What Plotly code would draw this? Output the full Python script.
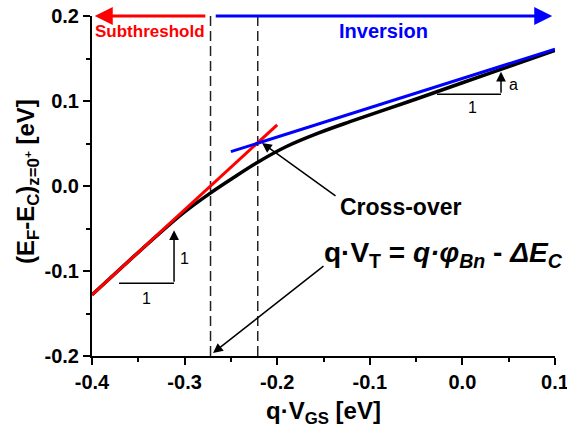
import plotly.graph_objects as go

# Band-edge position at the surface vs. gate drive
vgs = [-0.40, -0.36, -0.33, -0.30, -0.2726, -0.247, -0.221, -0.19,
       -0.155, -0.1214, -0.06, 0.00, 0.05, 0.10]
ef_ec = [-0.128, -0.088, -0.0585, -0.0305, -0.0086, 0.0100, 0.028, 0.0465,
         0.0625, 0.0757, 0.0985, 0.1215, 0.1405, 0.1595]

# Asymptotes: subthreshold (slope 1) and inversion (slope a)
sub_x = [-0.40, -0.20]
sub_y = [-0.128, 0.072]
inv_x = [-0.25, 0.10]
inv_y = [0.0404, 0.161]

# Threshold and cross-over gate voltages
vt_x = -0.272
vx_x = -0.221

# Slope triangles
tri1_x = [-0.3708, -0.3114]
tri1_y = [-0.1145, -0.1145]
tri1_tip = -0.052
tria_x = [-0.0274, 0.0417]
tria_y = [0.108, 0.108]
tria_tip = 0.1345

x_ticks = [-0.4, -0.3, -0.2, -0.1, 0.0, 0.1]
y_ticks = [-0.2, -0.1, 0.0, 0.1, 0.2]

FONT = "Liberation Sans, Arial, sans-serif"
RED = "#ff0000"
BLUE = "#0000ff"

fig = go.Figure()

for xv in (vt_x, vx_x):
    fig.add_trace(go.Scatter(x=[xv, xv], y=[-0.2, 0.2], mode="lines",
                             line=dict(color="#222222", width=1.5, dash="10px,5px")))

fig.add_trace(go.Scatter(x=vgs, y=ef_ec, mode="lines", line_shape="spline",
                         line=dict(color="black", width=3.5)))
fig.add_trace(go.Scatter(x=sub_x, y=sub_y, mode="lines",
                         line=dict(color=RED, width=3)))
fig.add_trace(go.Scatter(x=inv_x, y=inv_y, mode="lines",
                         line=dict(color=BLUE, width=3)))

# horizontal legs of the slope triangles
fig.add_trace(go.Scatter(x=tri1_x, y=tri1_y, mode="lines",
                         line=dict(color="black", width=1.5)))
fig.add_trace(go.Scatter(x=tria_x, y=tria_y, mode="lines",
                         line=dict(color="black", width=1.5)))

ann = []


def arrow(x0, y0, x1, y1, color="black", width=1.5, head=2, size=1.3):
    ann.append(dict(x=x1, y=y1, ax=x0, ay=y0, xref="x", yref="y",
                    axref="x", ayref="y", text="", showarrow=True,
                    arrowhead=head, arrowsize=size, arrowwidth=width,
                    arrowcolor=color))


# region arrows along the top
arrow(-0.276, 0.2, -0.397, 0.2, RED, 3, 2, 1.2)
arrow(-0.268, 0.2, 0.097, 0.2, BLUE, 3, 2, 1.2)
# vertical legs of the slope triangles
arrow(tri1_x[1], tri1_y[1], tri1_x[1], tri1_tip)
arrow(tria_x[1], tria_y[1], tria_x[1], tria_tip)
# callouts
arrow(-0.1354, -0.0129, -0.2164, 0.0506)
arrow(-0.1484, -0.0929, -0.2693, -0.1965)


def label(x, y, text, size, color="black", xanchor="center", yanchor="middle"):
    ann.append(dict(x=x, y=y, xref="x", yref="y", text=text, showarrow=False,
                    xanchor=xanchor, yanchor=yanchor,
                    font=dict(family=FONT, size=size, color=color)))


label(-0.3374, 0.182, "<b>Subthreshold</b>", 17, RED)
label(-0.0847, 0.182, "<b>Inversion</b>", 20, BLUE)
label(-0.1343, -0.0247, "<b>Cross-over</b>", 23, xanchor="left")
label(-0.1516, -0.080,
      "<b>q·V<sub>T</sub> = <i>q·φ<sub>Bn</sub></i> - <i>ΔE<sub>C</sub></i></b>",
      28, xanchor="left")
label(-0.3003, -0.085, "1", 16)
label(-0.341, -0.132, "1", 16)
label(0.0547, 0.120, "a", 16)
label(0.0114, 0.0918, "1", 16)

# axis titles
ann.append(dict(x=-0.138, y=0.512, xref="paper", yref="paper", textangle=-90,
                xanchor="center", yanchor="middle", showarrow=False,
                text="<b>(E<sub>F</sub>-E<sub>C</sub>)<sub>z=0<sup>+</sup></sub> [eV]</b>",
                font=dict(family=FONT, size=24, color="black")))
ann.append(dict(x=0.501, y=-0.165, xref="paper", yref="paper",
                xanchor="center", yanchor="middle", showarrow=False,
                text="<b>q·V<sub>GS</sub> [eV]</b>",
                font=dict(family=FONT, size=24, color="black")))

axis_common = dict(showgrid=False, zeroline=False, showline=True,
                   linecolor="black", linewidth=2, ticks="outside", ticklen=7,
                   tickwidth=1.5, tickcolor="black", ticklabeloverflow="allow",
                   automargin=False,
                   tickfont=dict(family=FONT, size=20, color="black", weight="bold"),
                   minor=dict(ticks="outside", ticklen=4, tickwidth=1.5,
                              tickcolor="black", dtick=0.05, showgrid=False))

fig.update_layout(
    width=567, height=429,
    margin=dict(l=92, r=12, t=16, b=73, autoexpand=False),
    paper_bgcolor="white", plot_bgcolor="white",
    showlegend=False,
    annotations=ann,
    xaxis=dict(range=[-0.4, 0.1], tickmode="array", tickvals=x_ticks,
               ticktext=[f"{v:.1f}" for v in x_ticks], **axis_common),
    yaxis=dict(range=[-0.2, 0.2], tickmode="array", tickvals=y_ticks,
               ticktext=[f"{v:.1f}" for v in y_ticks], **axis_common),
)

fig.write_html("out.html")
